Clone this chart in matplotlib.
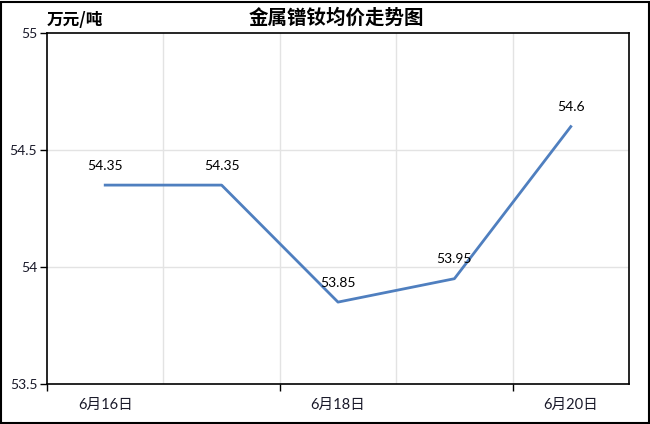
import matplotlib
matplotlib.use("Agg")
import matplotlib.pyplot as plt
from matplotlib.patches import Rectangle

categories = ["6月16日", "6月17日", "6月18日", "6月19日", "6月20日"]
values = [54.35, 54.35, 53.85, 53.95, 54.6]
label_texts = ["54.35", "54.35", "53.85", "53.95", "54.6"]
shown_labels = {0: "6月16日", 2: "6月18日", 4: "6月20日"}
y_ticks = [53.5, 54, 54.5, 55]
y_tick_labels = ["53.5", "54", "54.5", "55"]
title = "金属镨钕均价走势图"
unit = "万元/吨"

fam = ["Lato", "Noto Sans CJK SC", "DejaVu Sans"]
plt.rcParams["font.family"] = fam

fig = plt.figure(figsize=(6.5, 4.24), dpi=100)
fig.patches.append(Rectangle((0.002, 0.002), 0.996, 0.994, transform=fig.transFigure,
                             fill=False, edgecolor="black", linewidth=1.5))
ax = fig.add_axes([47/650, 1-384/424, (629-47)/650, (384-33)/424])

x = list(range(len(values)))
ax.plot(x, values, color="#4F7FBF", linewidth=2, zorder=3)
for xi, v, t in zip(x, values, label_texts):
    ax.annotate(t, (xi, v), xytext=(0, 14), textcoords="offset points",
                ha="center", va="center", fontsize=10, color="black")

ax.set_xlim(-0.5, len(values) - 0.5)
ax.set_ylim(53.5, 55)
ax.set_yticks(y_ticks)
ax.set_yticklabels(y_tick_labels, fontsize=10, color="#1a1a2a")

# grid at category boundaries
bounds = [i + 0.5 for i in range(len(values) - 1)]
for b in bounds:
    ax.axvline(b, color="#e3e3e3", linewidth=1, zorder=0)
for yv in y_ticks[1:-1]:
    ax.axhline(yv, color="#e3e3e3", linewidth=1, zorder=0)

ax.set_xticks([-0.5, 1.5, 3.5])
ax.set_xticklabels([])
ax.set_xticks(list(shown_labels.keys()), minor=True)
ax.set_xticklabels(list(shown_labels.values()), minor=True, fontsize=10.5, color="#1a1a2a")
ax.tick_params(axis="x", which="major", length=5, width=1, direction="out")
ax.tick_params(axis="x", which="minor", length=0, pad=10)
ax.tick_params(axis="y", length=5, width=1, direction="out", pad=2)

for s in ax.spines.values():
    s.set_linewidth(1.2)
    s.set_color("black")

fig.text(336/650, 1-18/424, title, ha="center", va="center", fontsize=14,
         fontweight="bold", family=["Noto Sans CJK SC", "DejaVu Sans"])
fig.text(47/650, 1-20/424, unit, ha="left", va="center", fontsize=12,
         fontweight="bold", family=["Noto Sans CJK SC", "DejaVu Sans"])

fig.savefig("out.png", dpi=100)
